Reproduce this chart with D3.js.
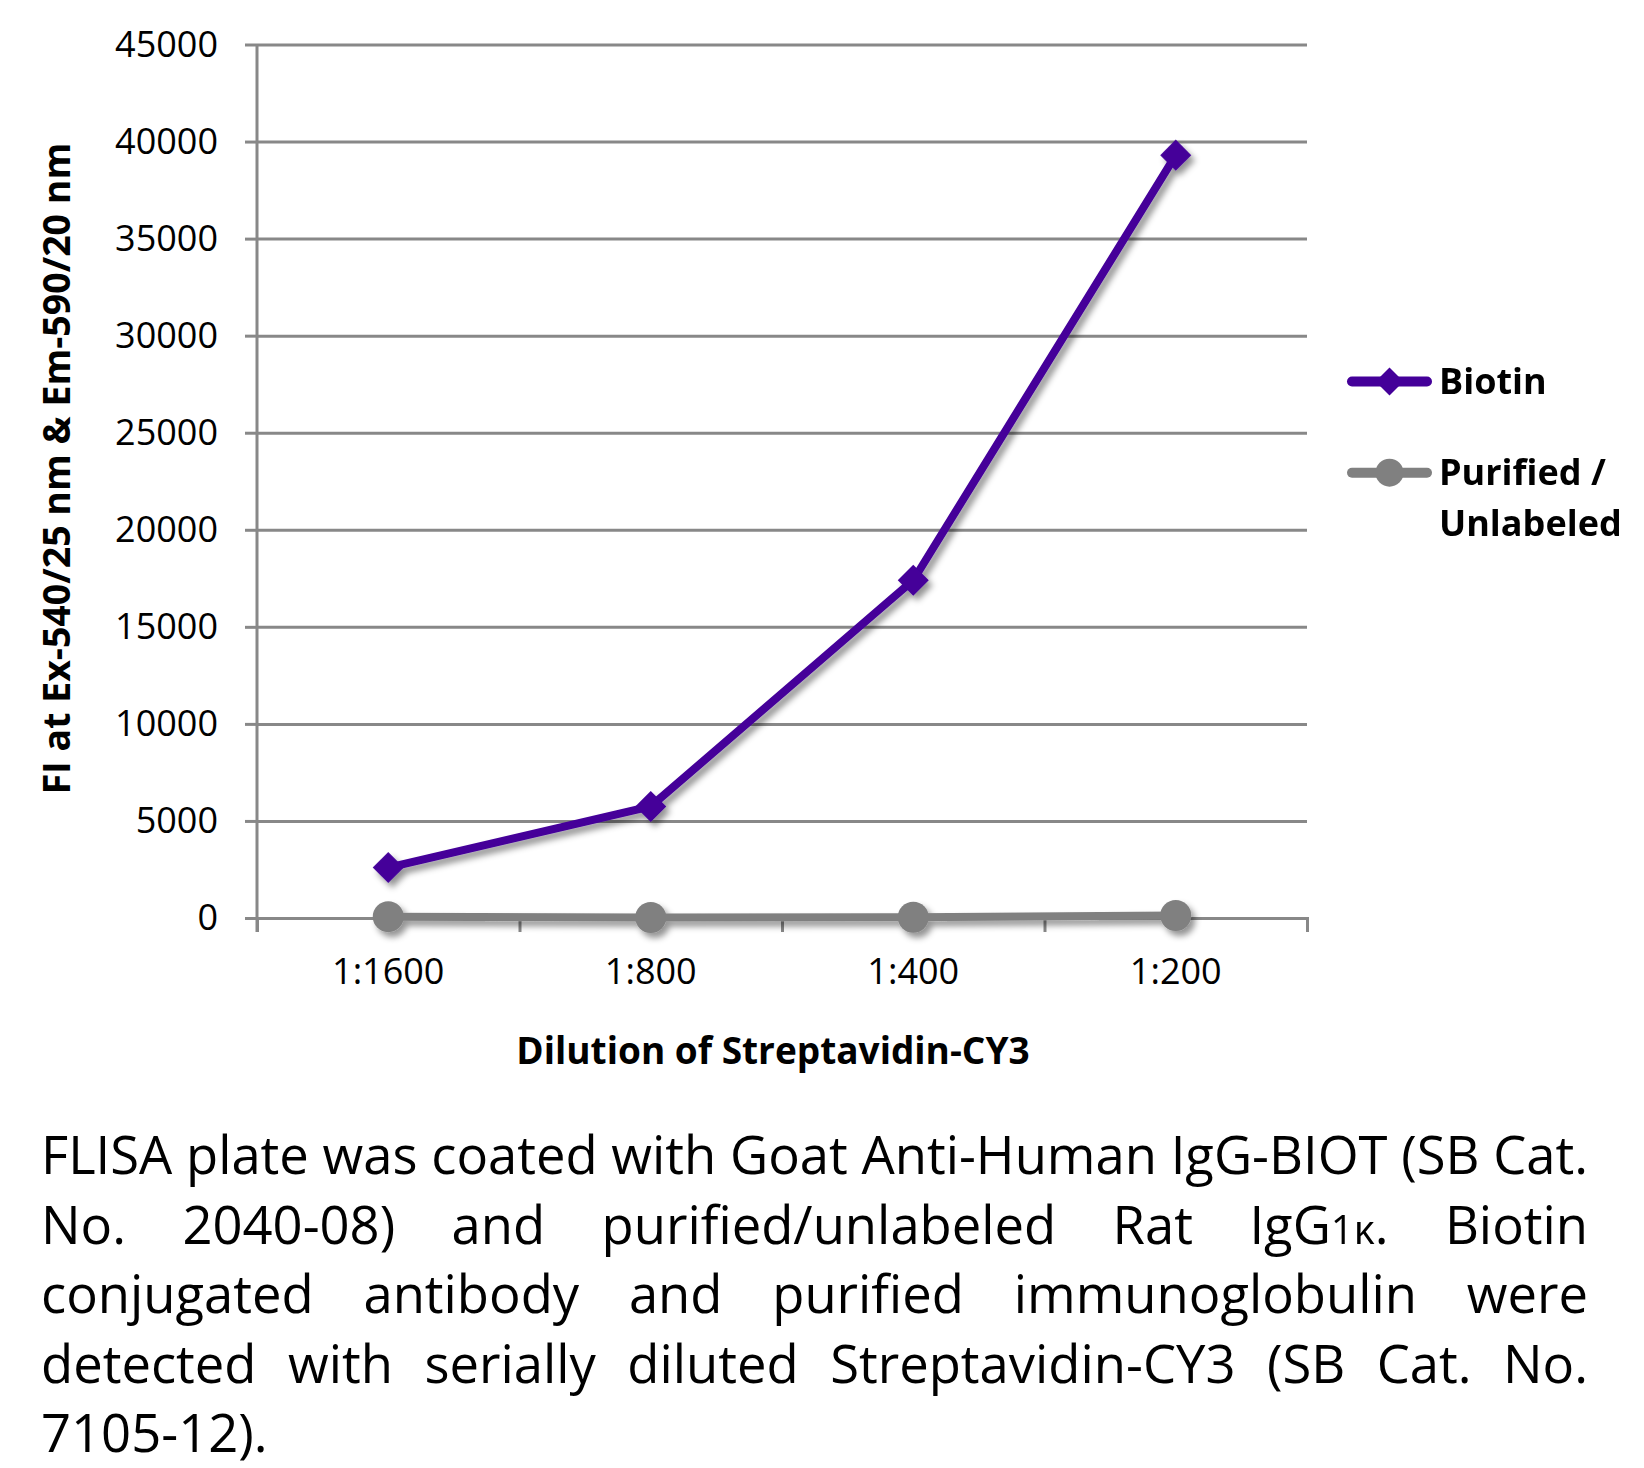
<!DOCTYPE html>
<html>
<head>
<meta charset="utf-8">
<script src="https://cdn.jsdelivr.net/npm/d3@7"></script>
<style>
  body { margin: 0; background: #ffffff; }
  svg { display: block; }
  text { font-family: 'Open Sans', sans-serif; fill: #000; }
</style>
</head>
<body>
<svg id="chart" width="1644" height="1468"></svg>
<script>
// ---------------- DATA ----------------
const categories = ["1:1600", "1:800", "1:400", "1:200"];
const biotinValues = [2600, 5750, 17400, 39300];
const purifiedValues = [70, 30, 40, 130];
const yTickValues = [0, 5000, 10000, 15000, 20000, 25000, 30000, 35000, 40000, 45000];
const seriesNames = ["Biotin", "Purified / Unlabeled"];
const legendLines = [["Biotin"], ["Purified /", "Unlabeled"]];
const yTitle = "FI at Ex-540/25 nm & Em-590/20 nm";
const xTitle = "Dilution of Streptavidin-CY3";
const captionLines = [
  "FLISA plate was coated with Goat Anti-Human IgG-BIOT (SB Cat.",
  "No. 2040-08) and purified/unlabeled Rat IgG1κ. Biotin",
  "conjugated antibody and purified immunoglobulin were",
  "detected with serially diluted Streptavidin-CY3 (SB Cat. No.",
  "7105-12)."
];

// ---------------- LAYOUT ----------------
const svg = d3.select("#chart");
const plot = { left: 257, right: 1307, top: 44.5, bottom: 918 };
const gridColor = "#888888";
const colors = ["#440099", "#808080"];

const defs = svg.append("defs");
defs.append("filter").attr("id", "shadow")
  .attr("x", "-20%").attr("y", "-20%").attr("width", "140%").attr("height", "140%")
  .append("feDropShadow")
  .attr("dx", 4).attr("dy", 5).attr("stdDeviation", 3)
  .attr("flood-color", "#000").attr("flood-opacity", 0.42);

const x = d3.scaleBand().domain(categories).range([plot.left, plot.right]).padding(0);
const xIdx = d3.scaleLinear().domain([0, categories.length]).range([plot.left, plot.right]);
const y = d3.scaleLinear().domain([0, 45000]).range([plot.bottom, plot.top]);
const cx = c => x(c) + x.bandwidth() / 2;

// gridlines
const grid = svg.append("g")
  .attr("transform", `translate(${plot.left},0)`)
  .call(d3.axisLeft(y).tickValues(yTickValues).tickSize(-(plot.right - plot.left)).tickFormat(""));
grid.select(".domain").remove();
grid.selectAll("line").attr("stroke", gridColor).attr("stroke-width", 3);

// y axis ticks + labels
const yAxis = svg.append("g")
  .attr("transform", `translate(${plot.left},0)`)
  .call(d3.axisLeft(y).tickValues(yTickValues).tickSize(12).tickPadding(27).tickFormat(d3.format("d")));
yAxis.select(".domain").remove();
yAxis.selectAll("line").attr("stroke", gridColor).attr("stroke-width", 3);
yAxis.selectAll("text").attr("font-size", 36).attr("font-family", "'Open Sans', sans-serif").attr("fill", "#000");

// y axis line
svg.append("line")
  .attr("x1", plot.left).attr("x2", plot.left)
  .attr("y1", y(45000)).attr("y2", y(0) + 14)
  .attr("stroke", gridColor).attr("stroke-width", 3);

// x axis line + boundary ticks
const xAxis = svg.append("g")
  .attr("transform", `translate(0,${plot.bottom})`)
  .call(d3.axisBottom(xIdx).tickValues(d3.range(categories.length + 1)).tickSize(14).tickFormat(""));
xAxis.select(".domain").attr("stroke", gridColor).attr("stroke-width", 3);
xAxis.selectAll("line").attr("stroke", gridColor).attr("stroke-width", 3);

// x category labels
const xLab = svg.append("g")
  .attr("transform", `translate(0,${plot.bottom})`)
  .call(d3.axisBottom(x).tickSize(0).tickPadding(40));
xLab.select(".domain").remove();
xLab.selectAll("text").attr("font-size", 36).attr("font-family", "'Open Sans', sans-serif").attr("fill", "#000");

// axis titles
svg.append("text")
  .attr("transform", "translate(70,468.5) rotate(-90)")
  .attr("text-anchor", "middle")
  .attr("font-size", 37.5).attr("font-weight", "bold")
  .text(yTitle);
svg.append("text")
  .attr("x", 773).attr("y", 1064)
  .attr("text-anchor", "middle")
  .attr("font-size", 37).attr("font-weight", "bold")
  .text(xTitle);

// ---------------- SERIES ----------------
const line = d3.line().x((d, i) => cx(categories[i])).y(d => y(d));
const diamond = d3.symbol(d3.symbolSquare, 480);
const diamondSmall = d3.symbol(d3.symbolSquare, 390);

const seriesG = svg.append("g").attr("filter", "url(#shadow)");
// Biotin
seriesG.append("path").datum(biotinValues)
  .attr("d", line).attr("fill", "none").attr("stroke", colors[0])
  .attr("stroke-width", 8).attr("stroke-linejoin", "round").attr("stroke-linecap", "round");
seriesG.selectAll(".bm").data(biotinValues).enter().append("path")
  .attr("class", "bm")
  .attr("d", diamond)
  .attr("transform", (d, i) => `translate(${cx(categories[i])},${y(d)}) rotate(45)`)
  .attr("fill", colors[0]);
// Purified
seriesG.append("path").datum(purifiedValues)
  .attr("d", line).attr("fill", "none").attr("stroke", colors[1])
  .attr("stroke-width", 8).attr("stroke-linejoin", "round").attr("stroke-linecap", "round");
seriesG.selectAll(".pm").data(purifiedValues).enter().append("circle")
  .attr("class", "pm")
  .attr("cx", (d, i) => cx(categories[i])).attr("cy", d => y(d)).attr("r", 15.5)
  .attr("fill", colors[1]);

// ---------------- LEGEND ----------------
const legendY = [381.5, 472.7];
const legend = svg.append("g");
seriesNames.forEach((name, i) => {
  const g = legend.append("g");
  g.append("line").attr("x1", 1352).attr("x2", 1427).attr("y1", legendY[i]).attr("y2", legendY[i])
    .attr("stroke", colors[i]).attr("stroke-width", 10).attr("stroke-linecap", "round");
  if (i === 0) {
    g.append("path").attr("d", diamondSmall)
      .attr("transform", `translate(1389.5,${legendY[i]}) rotate(45)`).attr("fill", colors[i]);
  } else {
    g.append("circle").attr("cx", 1389.5).attr("cy", legendY[i]).attr("r", 14).attr("fill", colors[i]);
  }
  const t = g.append("text").attr("x", 1439).attr("y", legendY[i] + 12.5)
    .attr("font-size", 36).attr("font-weight", "bold");
  legendLines[i].forEach((ln, j) => {
    t.append("tspan").attr("x", 1439).attr("dy", j === 0 ? 0 : 50.5).text(ln);
  });
});

// ---------------- CAPTION ----------------
const capLeft = 41, capRight = 1588, capBase = 1174, capLead = 69.6;
const capG = svg.append("g");
// fit font size so the first line's natural width fills the measure
const probe = capG.append("text").attr("font-size", 100).text(captionLines[0]);
const natural = probe.node().getComputedTextLength();
probe.remove();
const capSize = Math.min(56, 100 * (capRight - capLeft) / natural);

function addWord(g, word, xPos, yPos) {
  const t = g.append("text").attr("x", xPos).attr("y", yPos).attr("font-size", capSize);
  const m = word.match(/^(.*IgG)(1κ)(.*)$/);
  if (m) {
    t.append("tspan").text(m[1]);
    t.append("tspan").attr("font-size", capSize * 0.76).text(m[2]);
    t.append("tspan").text(m[3]);
  } else {
    t.text(word);
  }
  return t;
}

captionLines.forEach((ln, li) => {
  const words = ln.split(" ");
  const yPos = capBase + li * capLead;
  const nodes = words.map(w => addWord(capG, w, 0, yPos));
  const widths = nodes.map(n => n.node().getComputedTextLength());
  const spaceW = capSize * 0.26;
  let gap = spaceW;
  if (li < captionLines.length - 1 && words.length > 1) {
    gap = (capRight - capLeft - d3.sum(widths)) / (words.length - 1);
  }
  let xPos = capLeft;
  nodes.forEach((n, k) => {
    n.attr("x", xPos);
    xPos += widths[k] + gap;
  });
});
</script>
</body>
</html>
